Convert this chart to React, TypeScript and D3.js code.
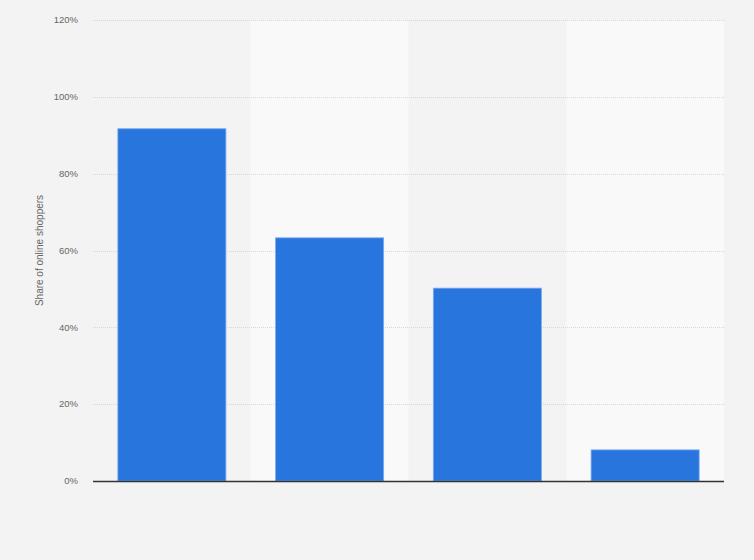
import React, { useEffect, useRef } from 'react';
import * as d3 from 'd3';

// categories have no visible labels in the reference
const categories = ['A', 'B', 'C', 'D'];
const values = [91.7, 63.3, 50.2, 8.1];
const yTicks = [0, 20, 40, 60, 80, 100, 120];

const W = 754;
const H = 560;
const margin = { top: 20, right: 30, bottom: 79, left: 93 };

const App: React.FC = () => {
    const ref = useRef<SVGSVGElement>(null);

    useEffect(() => {
        const svg = d3.select(ref.current);
        svg.selectAll('*').remove();

        const width = W - margin.left - margin.right;
        const height = H - margin.top - margin.bottom;

        svg.append('rect')
            .attr('width', W)
            .attr('height', H)
            .attr('fill', '#f3f3f3');

        const g = svg.append('g')
            .attr('transform', `translate(${margin.left},${margin.top})`);

        const cols = d3.scaleBand<string>()
            .domain(categories)
            .range([0, width])
            .padding(0);

        const x = d3.scaleBand<string>()
            .domain(categories)
            .range([0, width])
            .paddingInner(0.315)
            .paddingOuter(0.1575);

        const y = d3.scaleLinear()
            .domain([0, 120])
            .range([height, 0]);

        // alternating column backgrounds
        g.append('g')
            .selectAll('rect')
            .data(categories)
            .enter()
            .append('rect')
            .attr('x', d => cols(d)!)
            .attr('y', 0)
            .attr('width', cols.bandwidth())
            .attr('height', height)
            .attr('fill', (d, i) => (i % 2 === 1 ? '#f9f9f9' : '#f3f3f3'));

        // grid
        g.append('g')
            .selectAll('line')
            .data(yTicks.filter(t => t > 0))
            .enter()
            .append('line')
            .attr('x1', 0)
            .attr('x2', width)
            .attr('y1', d => Math.round(y(d)) + 0.5)
            .attr('y2', d => Math.round(y(d)) + 0.5)
            .attr('stroke', '#d7d7d7')
            .attr('stroke-width', 1)
            .attr('stroke-dasharray', '1,1');

        // tick labels
        g.append('g')
            .selectAll('text')
            .data(yTicks)
            .enter()
            .append('text')
            .attr('x', -15)
            .attr('y', d => y(d))
            .attr('dy', '0.35em')
            .attr('text-anchor', 'end')
            .attr('font-family', 'Arial, "Liberation Sans", sans-serif')
            .attr('font-size', 9.5)
            .attr('fill', '#666')
            .text(d => `${d}%`);

        // bars
        g.append('g')
            .selectAll('rect')
            .data(values)
            .enter()
            .append('rect')
            .attr('x', (d, i) => x(categories[i])!)
            .attr('y', d => y(d))
            .attr('width', x.bandwidth())
            .attr('height', d => height - y(d))
            .attr('fill', '#2876dd')
            .attr('stroke', '#7aaaf0')
            .attr('stroke-width', 0.8);

        // baseline
        g.append('line')
            .attr('x1', 0)
            .attr('x2', width)
            .attr('y1', height + 0.5)
            .attr('y2', height + 0.5)
            .attr('stroke', '#333')
            .attr('stroke-width', 1.3);

        // y axis title
        svg.append('text')
            .attr('transform', `translate(43, ${margin.top + height / 2}) rotate(-90)`)
            .attr('text-anchor', 'middle')
            .attr('font-family', 'Arial, "Liberation Sans", sans-serif')
            .attr('font-size', 10)
            .attr('fill', '#666')
            .text('Share of online shoppers');
    }, []);

    return (
        <svg ref={ref} width={W} height={H}
            style={{ position: 'absolute', left: 0, top: 0, display: 'block' }} />
    );
};

export default App;
